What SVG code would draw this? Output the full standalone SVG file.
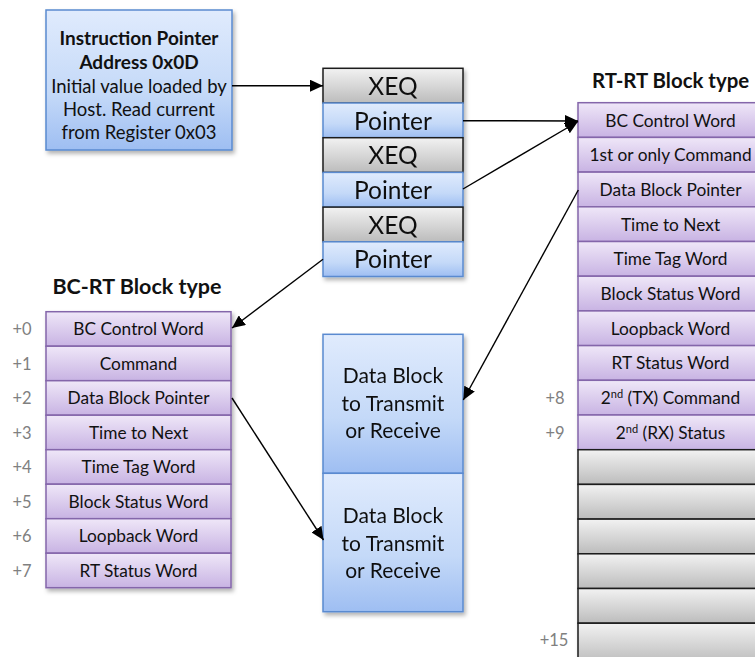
<svg xmlns="http://www.w3.org/2000/svg" width="755" height="657" viewBox="0 0 755 657">
<defs>
<linearGradient id="gBlue" x1="0" y1="0" x2="0" y2="1"><stop offset="0" stop-color="#e0ebfd"/><stop offset="0.6" stop-color="#c4d9f8"/><stop offset="1" stop-color="#9ebef2"/></linearGradient>
<linearGradient id="gGray" x1="0" y1="0" x2="0" y2="1"><stop offset="0" stop-color="#f2f2f2"/><stop offset="1" stop-color="#bcbcbc"/></linearGradient>
<linearGradient id="gPurp" x1="0" y1="0" x2="0" y2="1"><stop offset="0" stop-color="#efe7f8"/><stop offset="1" stop-color="#c8b3e3"/></linearGradient>
<filter id="sh" x="-10%" y="-10%" width="130%" height="130%"><feDropShadow dx="2" dy="3" stdDeviation="2" flood-color="#000" flood-opacity="0.3"/></filter>
<marker id="ah" markerUnits="userSpaceOnUse" markerWidth="14" markerHeight="12" refX="13" refY="6" orient="auto"><path d="M0,0 L13,6 L0,12 Z" fill="#000"/></marker>
</defs>
<style>
text{font-family:Lato,"Open Sans","Liberation Sans",sans-serif;fill:#111;text-anchor:middle}
.blue{fill:url(#gBlue);stroke:#5a8ad0;stroke-width:1.5}
.gray{fill:url(#gGray);stroke:#1c1c1c;stroke-width:1.5}
.purp{fill:url(#gPurp);stroke:#8466aa;stroke-width:1.5}
.big{font-size:24.5px}
.row{font-size:17.3px}
.off{font-size:16.5px;fill:#808080}
.ttl{font-size:21.5px;font-weight:bold}
.ib{font-size:18.5px}
.ibb{font-size:19px;font-weight:bold}
.db{font-size:21px}
.con{stroke:#000;stroke-width:1.4;fill:none;marker-end:url(#ah)}
</style>
<rect width="755" height="657" fill="#fff"/>

<g id="instruction-pointer">
<rect class="blue" x="46" y="10" width="186" height="140" filter="url(#sh)"/>
<text class="ibb" x="139" y="45">Instruction Pointer</text>
<text class="ibb" x="139" y="68.5">Address 0x0D</text>
<text class="ib" x="139" y="92.5">Initial value loaded by</text>
<text class="ib" x="139" y="115.5">Host. Read current</text>
<text class="ib" x="139" y="138.5">from Register 0x03</text>
</g>

<g id="xeq-list" filter="url(#sh)">
<g id="xeq1"><rect class="gray" x="323" y="68.3" width="140" height="34.7"/><text class="big" x="393" y="94.8">XEQ</text></g>
<g id="ptr1"><rect class="blue" x="323" y="103" width="140" height="34.7"/><text class="big" x="393" y="129.5">Pointer</text></g>
<g id="xeq2"><rect class="gray" x="323" y="137.7" width="140" height="34.7"/><text class="big" x="393" y="164.2">XEQ</text></g>
<g id="ptr2"><rect class="blue" x="323" y="172.4" width="140" height="34.7"/><text class="big" x="393" y="198.9">Pointer</text></g>
<g id="xeq3"><rect class="gray" x="323" y="207.1" width="140" height="34.7"/><text class="big" x="393" y="233.6">XEQ</text></g>
<g id="ptr3"><rect class="blue" x="323" y="241.8" width="140" height="34.7"/><text class="big" x="393" y="268.3">Pointer</text></g>
</g>

<g id="bc-rt-block">
<text class="ttl" x="137" y="294">BC-RT Block type</text>
<g filter="url(#sh)">
<rect class="purp" x="46" y="311.7" width="185" height="34.5"/>
<rect class="purp" x="46" y="346.2" width="185" height="34.5"/>
<rect class="purp" x="46" y="380.7" width="185" height="34.5"/>
<rect class="purp" x="46" y="415.2" width="185" height="34.5"/>
<rect class="purp" x="46" y="449.7" width="185" height="34.5"/>
<rect class="purp" x="46" y="484.2" width="185" height="34.5"/>
<rect class="purp" x="46" y="518.7" width="185" height="34.5"/>
<rect class="purp" x="46" y="553.2" width="185" height="34.5"/>
</g>
<text class="row" x="138.5" y="335">BC Control Word</text>
<text class="row" x="138.5" y="369.5">Command</text>
<text class="row" x="138.5" y="404">Data Block Pointer</text>
<text class="row" x="138.5" y="438.5">Time to Next</text>
<text class="row" x="138.5" y="473">Time Tag Word</text>
<text class="row" x="138.5" y="507.5">Block Status  Word</text>
<text class="row" x="138.5" y="542">Loopback Word</text>
<text class="row" x="138.5" y="576.5">RT Status Word</text>
<text class="off" x="22" y="335">+0</text>
<text class="off" x="22" y="369.5">+1</text>
<text class="off" x="22" y="404">+2</text>
<text class="off" x="22" y="438.5">+3</text>
<text class="off" x="22" y="473">+4</text>
<text class="off" x="22" y="507.5">+5</text>
<text class="off" x="22" y="542">+6</text>
<text class="off" x="22" y="576.5">+7</text>
</g>

<g id="data-blocks" filter="url(#sh)">
<g id="data-block-1"><rect class="blue" x="323" y="334.3" width="140" height="139"/>
<text class="db" x="393" y="383">Data Block</text><text class="db" x="393" y="411">to Transmit</text><text class="db" x="393" y="438">or Receive</text></g>
<g id="data-block-2"><rect class="blue" x="323" y="473.3" width="140" height="138.4"/>
<text class="db" x="393" y="523">Data Block</text><text class="db" x="393" y="551">to Transmit</text><text class="db" x="393" y="578">or Receive</text></g>
</g>

<g id="rt-rt-block">
<text class="ttl" x="592" y="88.3" style="text-anchor:start;font-size:20.4px">RT-RT Block type</text>
<g filter="url(#sh)">
<rect class="purp" x="578" y="102.7" width="185" height="34.7"/>
<rect class="purp" x="578" y="137.4" width="185" height="34.7"/>
<rect class="purp" x="578" y="172.1" width="185" height="34.7"/>
<rect class="purp" x="578" y="206.8" width="185" height="34.7"/>
<rect class="purp" x="578" y="241.5" width="185" height="34.7"/>
<rect class="purp" x="578" y="276.2" width="185" height="34.7"/>
<rect class="purp" x="578" y="310.9" width="185" height="34.7"/>
<rect class="purp" x="578" y="345.6" width="185" height="34.7"/>
<rect class="purp" x="578" y="380.3" width="185" height="34.7"/>
<rect class="purp" x="578" y="415" width="185" height="34.7"/>
<rect class="gray" x="578" y="449.7" width="185" height="34.7"/>
<rect class="gray" x="578" y="484.4" width="185" height="34.7"/>
<rect class="gray" x="578" y="519.1" width="185" height="34.7"/>
<rect class="gray" x="578" y="553.8" width="185" height="34.7"/>
<rect class="gray" x="578" y="588.5" width="185" height="34.7"/>
<rect class="gray" x="578" y="623.2" width="185" height="40"/>
</g>
<text class="row" x="670.5" y="126.5">BC Control Word</text>
<text class="row" x="670.5" y="161.2">1st or only Command</text>
<text class="row" x="670.5" y="195.9">Data Block Pointer</text>
<text class="row" x="670.5" y="230.6">Time to Next</text>
<text class="row" x="670.5" y="265.3">Time Tag Word</text>
<text class="row" x="670.5" y="300">Block Status  Word</text>
<text class="row" x="670.5" y="334.7">Loopback Word</text>
<text class="row" x="670.5" y="369.4">RT Status Word</text>
<text class="row" x="670.5" y="404.1">2<tspan font-size="11" dy="-6">nd</tspan><tspan dy="6"> (TX) Command</tspan></text>
<text class="row" x="670.5" y="438.8">2<tspan font-size="11" dy="-6">nd</tspan><tspan dy="6"> (RX) Status</tspan></text>
<text class="off" x="555" y="404.1">+8</text>
<text class="off" x="555" y="438.8">+9</text>
<text class="off" x="554" y="646">+15</text>
</g>

<g id="connectors">
<line class="con" x1="232" y1="85.7" x2="323" y2="85.7"/>
<line class="con" x1="463" y1="120.7" x2="578" y2="121"/>
<line class="con" x1="463" y1="189" x2="578" y2="121.5"/>
<line class="con" x1="323" y1="259.3" x2="232" y2="328"/>
<line class="con" x1="578.3" y1="190" x2="463.3" y2="400"/>
<line class="con" x1="232" y1="398" x2="323.5" y2="540"/>
</g>
</svg>
